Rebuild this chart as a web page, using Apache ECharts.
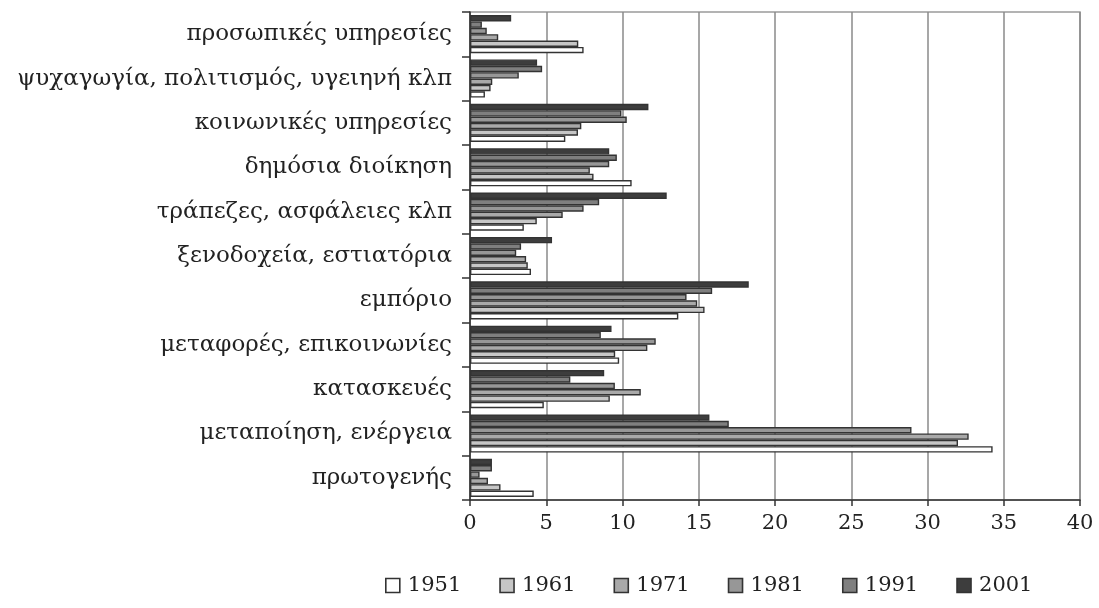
<!DOCTYPE html>
<html>
<head>
<meta charset="utf-8">
<script src="https://cdn.jsdelivr.net/npm/echarts@6/dist/echarts.min.js"></script>
<style>
html,body{margin:0;padding:0;background:#fff;}
#c{width:1099px;height:608px;}
</style>
</head>
<body>
<div id="c"></div>
<script>
const categories = ["πρωτογενής","μεταποίηση, ενέργεια","κατασκευές","μεταφορές, επικοινωνίες","εμπόριο","ξενοδοχεία, εστιατόρια","τράπεζες, ασφάλειες κλπ","δημόσια διοίκηση","κοινωνικές υπηρεσίες","ψυχαγωγία, πολιτισμός, υγειηνή κλπ","προσωπικές υπηρεσίες"];
const years = ["1951","1961","1971","1981","1991","2001"];
const v1951 = [4.18, 34.27, 4.84, 9.78, 13.66, 4.0, 3.53, 10.6, 6.25, 0.98, 7.45];
const v1961 = [2.0, 32.0, 9.17, 9.52, 15.38, 3.79, 4.38, 8.1, 7.08, 1.35, 7.1];
const v1971 = [1.18, 32.7, 11.2, 11.63, 14.9, 3.68, 6.08, 7.86, 7.3, 1.46, 1.85];
const v1981 = [0.63, 28.95, 9.5, 12.18, 14.2, 3.03, 7.45, 9.13, 10.28, 3.2, 1.1];
const v1991 = [1.44, 16.97, 6.58, 8.58, 15.88, 3.35, 8.47, 9.63, 9.93, 4.73, 0.78];
const v2001 = [1.44, 15.7, 8.8, 9.28, 18.28, 5.38, 12.9, 9.13, 11.7, 4.4, 2.7];
const xTicks = [0,5,10,15,20,25,30,35,40];

const values = [v1951, v1961, v1971, v1981, v1991, v2001];
const colors = ["#ffffff","#c6c6c6","#a9a9a9","#979797","#7f7f7f","#3d3d3d"];
const font = "'DejaVu Serif','Liberation Serif',serif";

// ECharts places the first horizontal series at the top of a band,
// so series are added in reverse to put 1951 at the bottom as in the original.
const series = years.map((y,i)=>({
  name:y, type:'bar', data:values[i], barGap:'0%', barCategoryGap:'14%',
  itemStyle:{color:colors[i],borderColor:'#333',borderWidth:1.4}
})).reverse();

const chart = echarts.init(document.getElementById('c'));
chart.setOption({
  animation:false,
  backgroundColor:'#fff',
  grid:{left:470,right:19,top:12,bottom:108,show:true,borderColor:'#9a9a9a',borderWidth:1.5},
  legend:{
    data:years, left:380, top:570, icon:'rect', itemWidth:14, itemHeight:14, itemGap:38, itemStyle:{borderColor:'#333',borderWidth:1.6},
    textStyle:{fontFamily:font,fontSize:21,color:'#222',padding:[0,0,0,3]}
  },
  xAxis:{
    type:'value', min:xTicks[0], max:xTicks[xTicks.length-1], interval:5,
    axisLine:{show:true,lineStyle:{color:'#333',width:1.5}},
    axisTick:{show:true,length:6,lineStyle:{color:'#333',width:1.5}},
    axisLabel:{fontFamily:font,fontSize:21,color:'#222',margin:13},
    splitLine:{show:true,lineStyle:{color:'#8a8a8a',width:1.5}}
  },
  yAxis:{
    type:'category', data:categories,
    axisLine:{show:true,lineStyle:{color:'#333',width:1.5}},
    axisTick:{show:true,length:8,lineStyle:{color:'#333',width:1.5}},
    axisLabel:{fontFamily:font,fontSize:23,color:'#222',margin:18},
    splitLine:{show:false}
  },
  series: series
});
</script>
</body>
</html>
